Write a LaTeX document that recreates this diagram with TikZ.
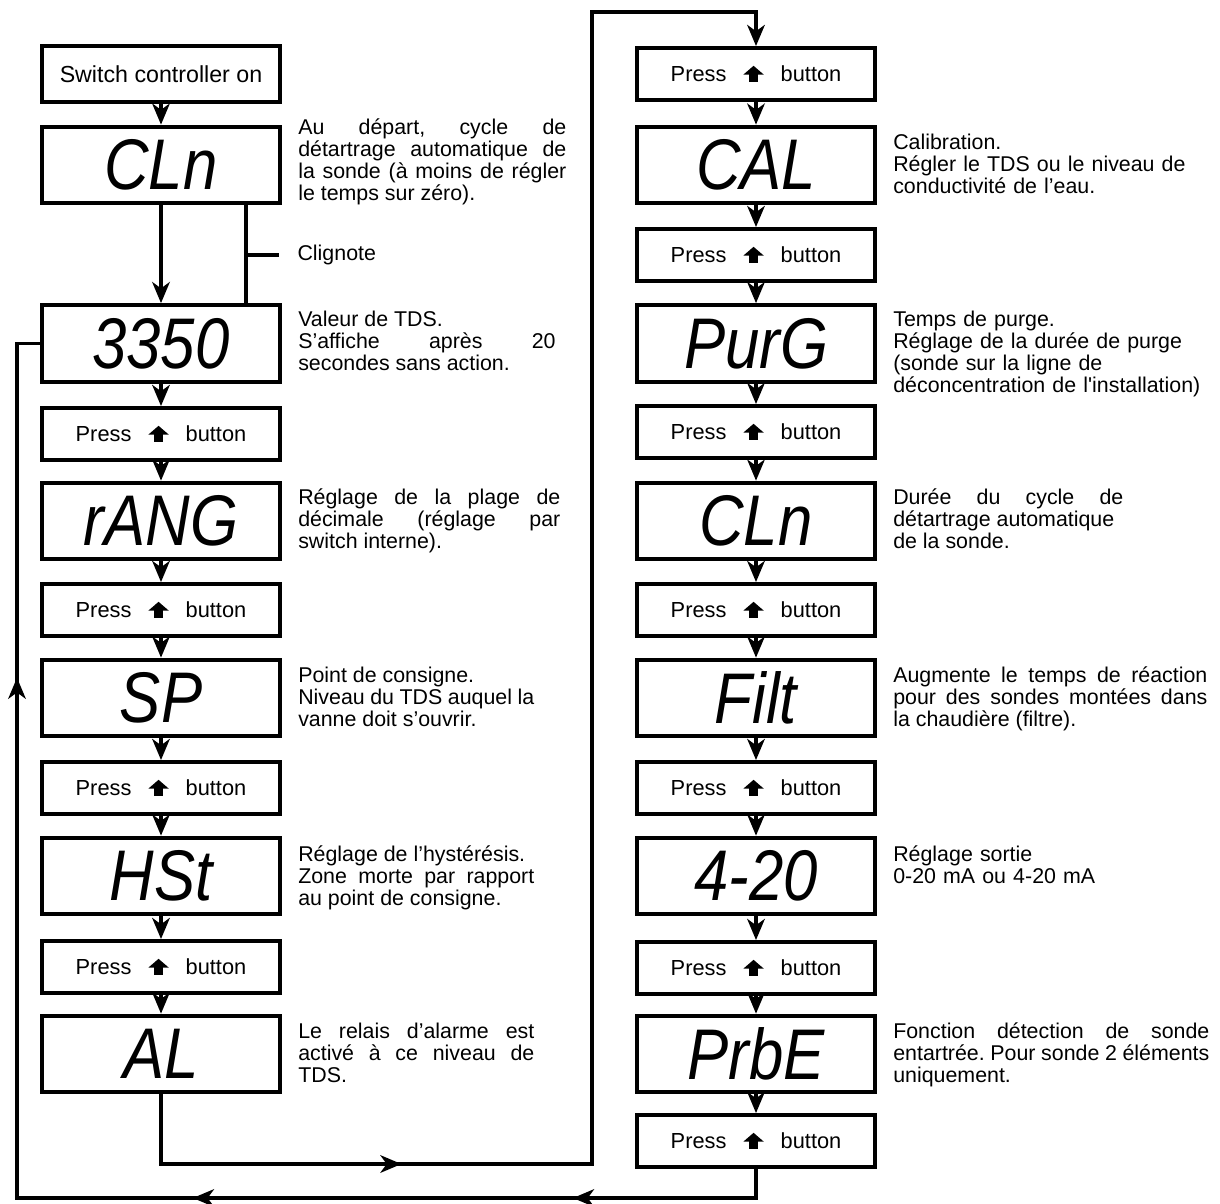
\documentclass[tikz,border=0pt]{standalone}
\usepackage{fontspec}
\newfontfamily\arialfont{Liberation Sans}
\newfontfamily\segfont{Liberation Sans}[FakeStretch=0.86]
\usetikzlibrary{arrows.meta,decorations.markings}

\tikzset{>={Stealth[length=15pt,width=12.5pt,inset=4.5pt]}}
% the up key drawn inside the press boxes
\newcommand{\upkey}{\tikz[baseline=0pt,x=1pt,y=1pt]{\fill (-2.9,0) rectangle (2.9,5.8); \fill (-7.3,5.2) -- (0,11.5) -- (7.3,5.2) -- cycle;}}
\newcommand{\pressup}{Press\hspace{12pt}\upkey\hspace{12pt}button}

\begin{document}
\begin{tikzpicture}[x=0.025cm,y=-0.025cm,
  disp/.style={draw,line width=2.8pt,minimum width=5.95cm,minimum height=1.92cm,inner sep=0pt,
    font=\segfont\itshape\fontsize{51}{51}\selectfont},
  press/.style={draw,line width=2.8pt,minimum width=5.95cm,minimum height=1.3cm,inner sep=0pt,
    font=\arialfont\fontsize{15.5}{16}\selectfont},
  note/.style={anchor=base west,inner sep=0pt,align=justify,
    font=\arialfont\fontsize{15.2}{15.8}\selectfont\frenchspacing},
  conn/.style={line width=2.4pt},
  backmarks/.style={postaction={decorate},decoration={markings,
    mark=at position 5.3cm with {\arrow{>}},
    mark=at position 14.8cm with {\arrow{>}},
    mark=at position 32.2cm with {\arrow{>}}}},
  fwdmark/.style={postaction={decorate},decoration={markings,
    mark=at position 7.75cm with {\arrow{>}}}}]
\useasboundingbox (0,0) rectangle (1220,1203);

% left column
\node[press,minimum height=1.4cm,font=\arialfont\fontsize{16.5}{17}\selectfont] (sw) at (161,74) {Switch controller on};
\node[disp] (d1) at (161,165) {CLn};
\node[disp] (d2) at (161,343.5) {3350};
\node[press] (p1) at (161,434) {\pressup};
\node[disp] (d3) at (161,521) {rANG};
\node[press] (p2) at (161,610) {\pressup};
\node[disp] (d4) at (161,698) {SP};
\node[press] (p3) at (161,788) {\pressup};
\node[disp] (d5) at (161,876) {HSt};
\node[press] (p4) at (161,967) {\pressup};
\node[disp] (d6) at (161,1054) {AL};

% right column
\node[press] (q1) at (756,74) {\pressup};
\node[disp] (e1) at (756,165) {CAL};
\node[press] (q2) at (756,255) {\pressup};
\node[disp] (e2) at (756,343.5) {PurG};
\node[press] (q3) at (756,432) {\pressup};
\node[disp] (e3) at (756,521) {CLn};
\node[press] (q4) at (756,610) {\pressup};
\node[disp] (e4) at (756,698) {Filt};
\node[press] (q5) at (756,788) {\pressup};
\node[disp] (e5) at (756,876) {4-20};
\node[press] (q6) at (756,968) {\pressup};
\node[disp] (e6) at (756,1054) {PrbE};
\node[press] (q7) at (756,1141) {\pressup};

% notes beside the left column
\node[note,text width=6.7cm] (n1) at (298,134) {Au départ, cycle de\linebreak détartrage automatique de\linebreak la sonde (à moins de régler\linebreak le temps sur zéro).};
\node[note,anchor=west,inner xsep=13pt] (clig) at (279,255) {Clignote};
\node[note,text width=6.43cm] (n2) at (298,326) {Valeur de TDS.\newline S’affiche après 20\linebreak secondes sans action.};
\node[note,text width=6.55cm] (n3) at (298,504) {Réglage de la plage de\linebreak décimale (réglage par\linebreak switch interne).};
\node[note,text width=5.9cm] (n4) at (298,682) {Point de consigne.\newline Niveau du TDS auquel la\linebreak vanne doit s’ouvrir.};
\node[note,text width=5.9cm] (n5) at (298,861) {Réglage de l’hystérésis.\newline Zone morte par rapport\linebreak au point de consigne.};
\node[note,text width=5.9cm] (n6) at (298,1038) {Le relais d’alarme est\linebreak activé à ce niveau de\linebreak TDS.};

% notes beside the right column
\node[note,align=left,text width=8cm] (m1) at (893,149) {Calibration.\\ Régler le TDS ou le niveau de\\ conductivité de l’eau.};
\node[note,align=left,text width=8cm] (m2) at (893,326) {Temps de purge.\\ Réglage de la durée de purge\\ (sonde sur la ligne de\\ déconcentration de l'installation)};
\node[note,text width=5.75cm] (m3) at (893,504) {Durée du cycle de\linebreak détartrage automatique\newline de la sonde.};
\node[note,text width=7.85cm] (m4) at (893,682) {Augmente le temps de réaction\linebreak pour des sondes montées dans\linebreak la chaudière (filtre).};
\node[note,align=left,text width=8cm] (m5) at (893,861) {Réglage sortie\\ 0-20 mA ou 4-20 mA};
\node[note,text width=7.9cm] (m6) at (893,1038) {Fonction détection de sonde\linebreak entartrée. Pour sonde 2 éléments\linebreak uniquement.};

% flow down the left column
\draw[conn,->] (sw) -- (d1);
\draw[conn,->] (d1) -- (d2);
\draw[conn,->] (d2) -- (p1);
\draw[conn,->] (p1) -- (d3);
\draw[conn,->] (d3) -- (p2);
\draw[conn,->] (p2) -- (d4);
\draw[conn,->] (d4) -- (p3);
\draw[conn,->] (p3) -- (d5);
\draw[conn,->] (d5) -- (p4);
\draw[conn,->] (p4) -- (d6);

% flow down the right column
\draw[conn,->] (q1) -- (e1);
\draw[conn,->] (e1) -- (q2);
\draw[conn,->] (q2) -- (e2);
\draw[conn,->] (e2) -- (q3);
\draw[conn,->] (q3) -- (e3);
\draw[conn,->] (e3) -- (q4);
\draw[conn,->] (q4) -- (e4);
\draw[conn,->] (e4) -- (q5);
\draw[conn,->] (q5) -- (e5);
\draw[conn,->] (e5) -- (q6);
\draw[conn,->] (q6) -- (e6);
\draw[conn,->] (e6) -- (q7);

% blinking bracket
\coordinate (blink) at (246,255);
\draw[conn] (d1.south -| blink) -- (d2.north -| blink);
\draw[conn] (blink) -- (clig.west);

% from AL over to the right column
\coordinate (fwdB) at (592,1164);
\coordinate (fwdT) at (756,12);
\draw[conn,fwdmark,->] (d6.south) |- (fwdB) |- (fwdT) -- (q1.north);

% back round to the TDS value
\coordinate (loopL) at (17,1198);
\draw[conn,backmarks] (q7.south) |- (loopL) |- (d2.west);

\end{tikzpicture}
\end{document}
